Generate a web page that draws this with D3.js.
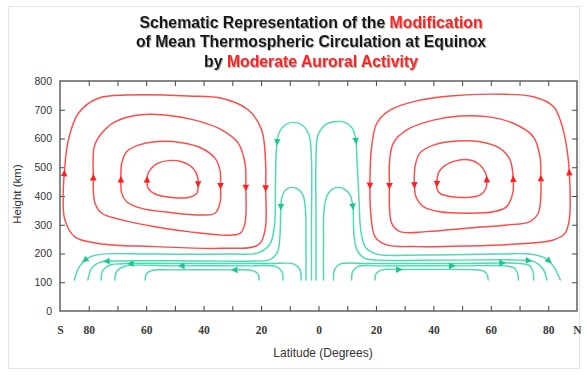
<!DOCTYPE html>
<html>
<head>
<meta charset="utf-8">
<script src="https://cdn.jsdelivr.net/npm/d3@7"></script>
<style>
  html, body { margin: 0; padding: 0; background: #fff; }
  svg { display: block; }
</style>
</head>
<body>
<div id="chart"></div>
<script>
// ---- axis content ----
const heightTicks = [0, 100, 200, 300, 400, 500, 600, 700, 800];
const latTicks = [-80, -70, -60, -50, -40, -30, -20, -10, 0, 10, 20, 30, 40, 50, 60, 70, 80];
const latLabelAt = [-90, -80, -60, -40, -20, 0, 20, 40, 60, 80, 90];
const latLabelText = ["S", "80", "60", "40", "20", "0", "20", "40", "60", "80", "N"];

// ---- auroral (red) circulation cells, [latitude, height km], in flow order ----
const southLoop1 = [[-88.5,479],[-87.1,595],[-83.6,688],[-76.7,740],[-66.2,751],[-45.3,748],[-33.7,740],[-24.4,699],[-19.8,630],[-18.4,514],[-18.4,432],[-18.6,282],[-21.0,230],[-33.7,218],[-56.9,224],[-76.7,235],[-84.8,258],[-88.3,317],[-88.9,398]];
const southLoop2 = [[-78.4,464],[-78.1,571],[-75.5,618],[-70.9,658],[-62.7,682],[-53.4,682],[-43.0,664],[-33.7,630],[-27.9,583],[-25.6,514],[-25.3,430],[-25.6,305],[-27.3,270],[-33.7,264],[-45.3,276],[-56.9,293],[-68.5,317],[-75.5,340],[-77.8,375],[-78.4,421]];
const southLoop3 = [[-68.8,458],[-68.5,514],[-66.8,554],[-62.7,577],[-56.9,589],[-47.6,585],[-40.7,566],[-36.0,531],[-34.3,490],[-34.1,436],[-34.3,375],[-36.0,340],[-40.7,334],[-51.1,342],[-61.6,357],[-66.8,380],[-68.5,409]];
const southLoop4 = [[-59.7,456],[-59.3,479],[-56.9,508],[-52.3,523],[-47.6,519],[-43.6,496],[-42.1,467],[-41.9,441],[-42.4,409],[-45.3,395],[-51.1,395],[-56.9,407],[-59.3,427]];

const northLoop1 = [[17.9,435],[18.2,340],[19.7,258],[23.7,230],[34.2,224],[51.6,226],[69.0,233],[81.8,247],[85.8,270],[87.3,317],[87.6,421],[87.3,481],[87.0,525],[85.2,630],[81.8,711],[74.8,745],[63.2,754],[45.8,748],[34.2,731],[24.9,699],[20.3,653],[18.5,571]];
const northLoop2 = [[24.7,435],[24.7,363],[25.5,305],[28.4,276],[37.7,276],[51.6,288],[65.5,299],[73.6,311],[76.5,340],[77.4,398],[77.4,467],[77.1,537],[74.8,606],[67.8,653],[58.6,676],[49.3,678],[40.0,664],[30.7,630],[26.0,583],[24.7,514]];
const northLoop3 = [[33.4,438],[33.9,398],[36.5,363],[42.3,345],[51.6,340],[60.9,345],[65.5,363],[67.6,409],[67.8,459],[66.7,525],[63.2,566],[56.2,589],[48.1,591],[40.0,577],[35.3,549],[33.6,502]];
const northLoop4 = [[41.2,442],[41.2,427],[42.3,409],[45.8,398],[51.6,395],[56.2,403],[58.3,427],[58.6,458],[58.2,479],[56.2,508],[52.8,525],[48.1,523],[43.5,502],[41.7,479]];

const southCellArrows = [[-88.5,479],[-18.9,427],[-78.4,464],[-25.3,430],[-68.8,458],[-34.1,436],[-59.7,456],[-42.1,441]];
const northCellArrows = [[17.9,435],[87.3,481],[24.7,435],[77.4,462],[33.4,438],[67.8,459],[41.2,442],[58.6,458]];

// ---- mean (green) circulation streamlines, [latitude, height km], in flow order ----
const southStreamA = [[-2.44,108],[-2.44,317],[-2.44,525],[-3.31,612],[-5.75,647],[-8.53,656],[-11.66,647],[-13.75,619],[-14.55,577],[-14.97,456],[-15.32,299],[-16.89,233],[-21.07,202],[-30.8,198],[-58.7,198],[-76.1,197],[-80.3,184],[-83.1,157],[-85.0,108]];
const southStreamB = [[-4.35,108],[-4.35,247],[-4.53,351],[-5.40,403],[-7.14,424],[-9.33,430],[-11.49,421],[-12.71,397],[-13.16,351],[-13.41,264],[-14.28,205],[-16.89,179],[-22.1,174],[-41.3,174],[-69.1,174],[-76.1,169],[-78.9,150],[-80.3,108]];
const southStreamC = [[-6.09,108],[-6.44,143],[-8.53,163],[-16.89,165],[-41.3,165],[-65.6,165],[-72.6,160],[-75.0,143],[-75.7,108]];
const southStreamD = [[-12.36,108],[-12.71,136],[-14.80,155],[-23.85,157],[-48.2,157],[-67.7,155],[-70.2,139],[-70.9,108]];
const southStreamE = [[-20.7,108],[-21.07,129],[-23.15,141],[-30.8,143],[-51.7,143],[-58.0,141],[-59.9,129],[-60.4,108]];

const northStreamA = [[-0.87,108],[-0.87,317],[-0.87,525],[-0.17,612],[2.61,649],[6.09,659],[9.23,656],[11.66,637],[12.88,602],[13.41,525],[14.10,386],[14.80,275],[16.54,219],[20.7,197],[35.3,195],[63.2,198],[73.6,198],[78.9,184],[81.7,157],[84.2,108]];
const northStreamB = [[1.74,108],[1.74,247],[1.92,351],[2.96,400],[4.70,423],[6.89,430],[9.23,423],[11.14,400],[12.01,358],[12.36,264],[13.41,212],[16.19,183],[21.4,177],[45.8,177],[70.2,177],[75.4,170],[78.2,146],[79.5,108]];
const northStreamC = [[5.22,108],[5.57,143],[7.49,163],[17.93,165],[45.8,165],[70.2,165],[73.6,157],[74.7,136],[74.9,108]];
const northStreamD = [[11.56,108],[11.84,136],[13.75,155],[21.4,157],[49.3,157],[64.9,157],[68.1,150],[69.3,132],[69.6,108]];
const northStreamE = [[19.67,108],[20.0,129],[22.1,143],[28.4,144],[52.8,144],[56.9,141],[58.6,129],[59.1,108]];

const southStreamArrows = [[-14.55,589],[-80.7,171],[-13.16,363],[-73.7,174],[-65.3,165],[-47.6,157],[-29.1,143]];
const northStreamArrows = [[13.3,591],[80.0,171],[12.1,365],[73.1,175],[64.1,166],[46.4,158],[28.1,146]];

// ---- layout ----
const W = 587, H = 376;
const plot = { left: 60, right: 577, top: 81, bottom: 311 };
const RED = "#ff4a4a", RED_HEAD = "#ff1f1f";
const GREEN = "#47dcb2", GREEN_HEAD = "#1cc48e";

const svg = d3.select("#chart").append("svg").attr("width", W).attr("height", H);

const defs = svg.append("defs");
const shadow = defs.append("filter").attr("id", "titleShadow")
  .attr("x", "-5%").attr("y", "-20%").attr("width", "110%").attr("height", "140%");
shadow.append("feDropShadow").attr("dx", 1).attr("dy", 1).attr("stdDeviation", 0.7)
  .attr("flood-color", "#777").attr("flood-opacity", 0.55);

// outer panel border
svg.append("rect").attr("x", 8.5).attr("y", 6.5).attr("width", 571).attr("height", 362)
  .attr("fill", "#fff").attr("stroke", "#e4e4e4").attr("stroke-width", 1);

const x = d3.scaleLinear().domain([-90, 90]).range([plot.left, plot.right]);
const y = d3.scaleLinear().domain([0, 800]).range([plot.bottom, plot.top]);

// title
const title = svg.append("g").attr("filter", "url(#titleShadow)")
  .attr("font-family", "'Liberation Sans', Arial, sans-serif")
  .attr("font-weight", "bold").attr("font-size", 15.8).attr("text-anchor", "middle");
const titleLines = [
  [["Schematic Representation of the ", "#161616"], ["Modification", "#ff2020"]],
  [["of Mean Thermospheric Circulation at Equinox", "#161616"]],
  [["by ", "#161616"], ["Moderate Auroral Activity", "#ff2020"]]
];
titleLines.forEach((parts, i) => {
  const t = title.append("text").attr("x", 311).attr("y", 28 + i * 19.4);
  parts.forEach(([s, c]) => t.append("tspan").attr("fill", c).text(s));
});

// ticks: all point inward from the frame
const axisStyle = g => {
  g.select(".domain").remove();
  g.selectAll(".tick line").attr("stroke", "#444").attr("stroke-width", 1);
};
svg.append("g").attr("transform", `translate(0,${plot.bottom})`)
  .call(d3.axisBottom(x).tickValues(latTicks).tickSize(-5).tickFormat(""))
  .call(axisStyle);
svg.append("g").attr("transform", `translate(0,${plot.top})`)
  .call(d3.axisTop(x).tickValues(latTicks).tickSize(-5).tickFormat(""))
  .call(axisStyle);
svg.append("g").attr("transform", `translate(${plot.right},0)`)
  .call(d3.axisRight(y).tickValues(heightTicks.slice(1, -1)).tickSize(-5).tickFormat(""))
  .call(axisStyle);
const leftAxis = svg.append("g").attr("transform", `translate(${plot.left},0)`)
  .call(d3.axisLeft(y).tickValues(heightTicks).tickSize(-5).tickPadding(8).tickFormat(d3.format("d")))
  .call(axisStyle);
leftAxis.selectAll(".tick text")
  .attr("font-family", "'Liberation Sans', Arial, sans-serif").attr("font-size", 10.5).attr("fill", "#333");
leftAxis.selectAll(".tick").filter(d => d === 0 || d === 800).select("line").remove();

// latitude labels
const latAxis = svg.append("g").attr("transform", `translate(0,${plot.bottom})`)
  .call(d3.axisBottom(x).tickValues(latLabelAt).tickSize(0).tickPadding(15)
    .tickFormat((d, i) => latLabelText[i]));
latAxis.select(".domain").remove();
latAxis.selectAll(".tick text")
  .attr("font-family", "'Liberation Serif', 'Times New Roman', serif")
  .attr("font-size", 11.5).attr("font-weight", "bold").attr("fill", "#3a3a3a");

// axis titles
svg.append("text").attr("x", 323).attr("y", 357).attr("text-anchor", "middle")
  .attr("font-family", "'Liberation Sans', Arial, sans-serif").attr("font-size", 12).attr("fill", "#333")
  .text("Latitude (Degrees)");
svg.append("text").attr("transform", "translate(21,194) rotate(-90)").attr("text-anchor", "middle")
  .attr("font-family", "'Liberation Sans', Arial, sans-serif").attr("font-size", 11.5).attr("fill", "#333")
  .text("Height (km)");

// curves
const closedLine = d3.line().x(d => x(d[0])).y(d => y(d[1])).curve(d3.curveCatmullRomClosed.alpha(0.5));
const openLine = d3.line().x(d => x(d[0])).y(d => y(d[1])).curve(d3.curveCatmullRom.alpha(0.5));

function drawGroup(data, gen, color) {
  return svg.append("g").selectAll("path").data(data).join("path")
    .attr("d", gen).attr("fill", "none").attr("stroke", color)
    .attr("stroke-width", 1.45).attr("stroke-linejoin", "round").attr("stroke-linecap", "round");
}

const southCells = drawGroup([southLoop1, southLoop2, southLoop3, southLoop4], closedLine, RED);
const northCells = drawGroup([northLoop1, northLoop2, northLoop3, northLoop4], closedLine, RED);
const southStreams = drawGroup([southStreamA, southStreamB, southStreamC, southStreamD, southStreamE], openLine, GREEN);
const northStreams = drawGroup([northStreamA, northStreamB, northStreamC, northStreamD, northStreamE], openLine, GREEN);

// arrow heads: sit on the nearest point of the curve, pointing along the flow
const headLayer = svg.append("g");
function placeHeads(paths, anchors, fill) {
  const samples = [];
  paths.each(function () {
    const L = this.getTotalLength();
    for (let l = 0; l <= L; l += 0.75) samples.push({ el: this, l, L, p: this.getPointAtLength(l) });
  });
  anchors.forEach(([lat, h]) => {
    const ax = x(lat), ay = y(h);
    let best = null, bd = Infinity;
    samples.forEach(s => {
      const d = (s.p.x - ax) ** 2 + (s.p.y - ay) ** 2;
      if (d < bd) { bd = d; best = s; }
    });
    const a = best.el.getPointAtLength(Math.max(0, best.l - 2));
    const b = best.el.getPointAtLength(Math.min(best.L, best.l + 2));
    const ang = Math.atan2(b.y - a.y, b.x - a.x) * 180 / Math.PI;
    headLayer.append("path").attr("d", "M3.6,0L-3,-3.3L-3,3.3Z")
      .attr("transform", `translate(${best.p.x},${best.p.y}) rotate(${ang})`)
      .attr("fill", fill);
  });
}
placeHeads(southCells, southCellArrows, RED_HEAD);
placeHeads(northCells, northCellArrows, RED_HEAD);
placeHeads(southStreams, southStreamArrows, GREEN_HEAD);
placeHeads(northStreams, northStreamArrows, GREEN_HEAD);

// plot frame
svg.append("rect").attr("x", plot.left).attr("y", plot.top)
  .attr("width", plot.right - plot.left).attr("height", plot.bottom - plot.top)
  .attr("fill", "none").attr("stroke", "#4a4a4a").attr("stroke-width", 1.3);
</script>
</body>
</html>
